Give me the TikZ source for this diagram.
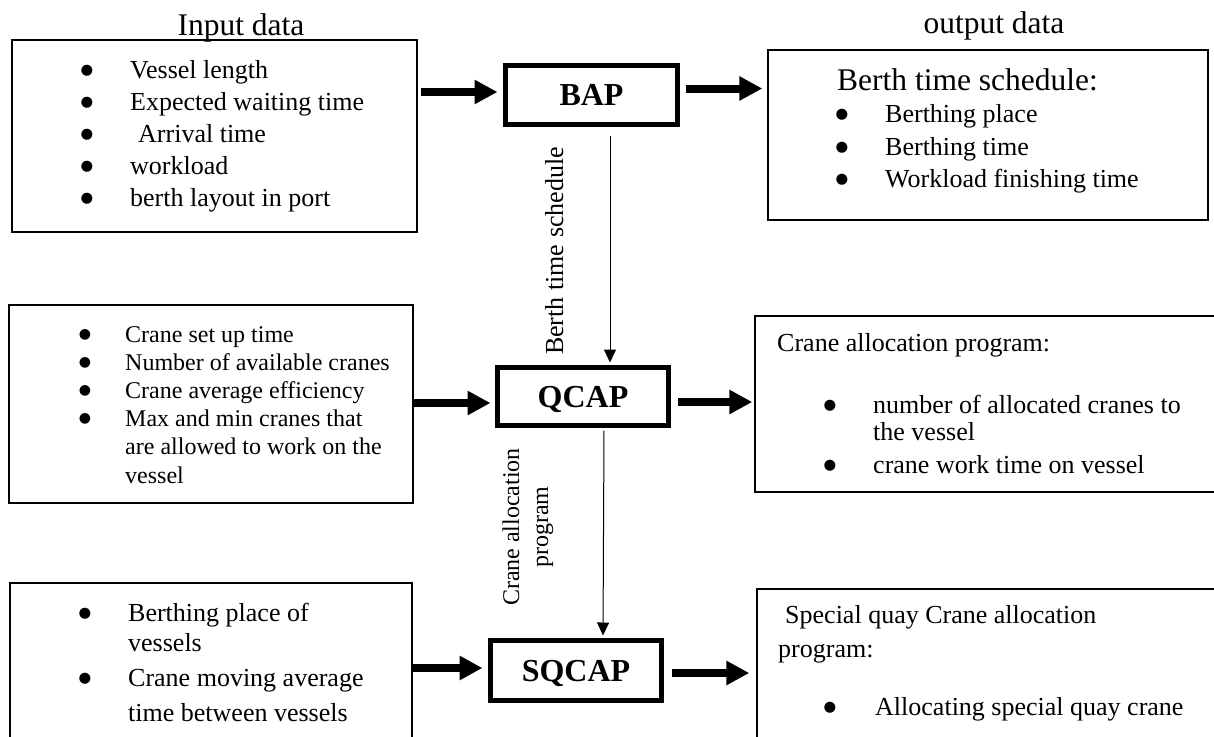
\documentclass[tikz,border=0pt]{standalone}
\usepackage{fontspec}
\setmainfont{Liberation Serif}
\newfontfamily\bulfont{DejaVu Sans}
\usetikzlibrary{arrows.meta}
\newcommand\mybul{●}
\tikzset{
 frame/.style={draw, line width=1.4pt, inner sep=0pt},
 proc/.style={draw, line width=5pt, inner sep=0pt, font=\fontsize{32}{36}\selectfont\bfseries, text height=21pt, text depth=0pt},
 ttl/.style={anchor=base, inner sep=0pt, font=\fontsize{31.5}{36}\selectfont},
 hd/.style={anchor=base west, inner sep=0pt, font=\fontsize{31.5}{36}\selectfont},
 txt/.style={anchor=base west, inner sep=0pt, font=\fontsize{26}{30}\selectfont},
 txts/.style={anchor=base west, inner sep=0pt, font=\fontsize{24}{28}\selectfont},
 bul/.style={anchor=base, inner sep=0pt, yshift=3.5pt, font=\bulfont\fontsize{14.5}{16}\selectfont},
 buls/.style={anchor=base, inner sep=0pt, yshift=4pt, font=\bulfont\fontsize{14}{16}\selectfont},
 thickarr/.style={line width=8pt, -{Triangle[length=23pt,width=23pt]}},
 thinarr/.style={line width=1pt, -{Triangle[length=13pt,width=12pt]}},
 vlab/.style={anchor=base, inner sep=0pt, rotate=90},
}
\begin{document}
\begin{tikzpicture}[x=1pt,y=-1pt]
\useasboundingbox (0,0) rectangle (1214,736);
\clip (0,0) rectangle (1214,736);
% titles
\node[ttl] (tin) at (241,35) {Input data};
\node[ttl] (tout) at (994,33) {output data};
% frames
\node[frame, minimum width=405pt, minimum height=192pt] (in1) at (214.5,136) {};
\node[frame, minimum width=404pt, minimum height=198pt] (in2) at (211,404) {};
\node[frame, minimum width=402pt, minimum height=177pt] (in3) at (211,671.5) {};
\node[frame, minimum width=440pt, minimum height=170pt] (out1) at (988,135) {};
\node[frame, minimum width=475pt, minimum height=176pt] (out2) at (992.5,404) {};
\node[frame, minimum width=473pt, minimum height=171pt] (out3) at (993.5,674.5) {};
% process boxes
\node[proc, minimum width=172pt, minimum height=59pt] (bap) at (591.5,95) {BAP};
\node[proc, minimum width=171pt, minimum height=58pt] (qcap) at (583,396.5) {QCAP};
\node[proc, minimum width=171pt, minimum height=60pt] (sqcap) at (576,670.5) {SQCAP};
% input 1 text
\node[bul] (b11) at (87,78) {\mybul};
\node[bul] (b12) at (87,110) {\mybul};
\node[bul] (b13) at (87,142) {\mybul};
\node[bul] (b14) at (87,174) {\mybul};
\node[bul] (b15) at (87,206) {\mybul};
\node[txt] (t11) at (130,78) {Vessel length};
\node[txt] (t12) at (130,110) {Expected waiting time};
\node[txt] (t13) at (138,142) {Arrival time};
\node[txt] (t14) at (130,174) {workload};
\node[txt] (t15) at (130,206) {berth layout in port};
% input 2 text
\node[buls] (b21) at (85,342) {\mybul};
\node[buls] (b22) at (85,370.2) {\mybul};
\node[buls] (b23) at (85,398.4) {\mybul};
\node[buls] (b24) at (85,426.6) {\mybul};
\node[txts] (t21) at (125,342) {Crane set up time};
\node[txts] (t22) at (125,370.2) {Number of available cranes};
\node[txts] (t23) at (125,398.4) {Crane average efficiency};
\node[txts] (t24) at (125,426.6) {Max and min cranes that};
\node[txts] (t25) at (125,454.8) {are allowed to work on the};
\node[txts] (t26) at (125,483) {vessel};
% input 3 text
\node[bul] (b31) at (85,621) {\mybul};
\node[bul] (b32) at (85,686) {\mybul};
\node[txt] (t31) at (128,621) {Berthing place of};
\node[txt] (t32) at (128,651) {vessels};
\node[txt] (t33) at (128,686) {Crane moving average};
\node[txt] (t34) at (128,721) {time between vessels};
% output 1 text
\node[hd] (h1) at (837,90) {Berth time schedule:};
\node[bul] (c11) at (842,122) {\mybul};
\node[bul] (c12) at (842,155) {\mybul};
\node[bul] (c13) at (842,187) {\mybul};
\node[txt] (u11) at (885,122) {Berthing place};
\node[txt] (u12) at (885,155) {Berthing time};
\node[txt] (u13) at (885,187) {Workload finishing time};
% output 2 text
\node[txt] (h2) at (777,351) {Crane allocation program:};
\node[bul] (c21) at (830,413) {\mybul};
\node[bul] (c22) at (830,473) {\mybul};
\node[txt] (u21) at (873,413) {number of allocated cranes to};
\node[txt] (u22) at (873,440) {the vessel};
\node[txt] (u23) at (873,473) {crane work time on vessel};
% output 3 text
\node[txt] (h3a) at (785,623) {Special quay Crane allocation};
\node[txt] (h3b) at (778,657) {program:};
\node[bul] (c31) at (830,715) {\mybul};
\node[txt] (u31) at (875,715) {Allocating special quay crane};
% vertical labels
\node[vlab, font=\fontsize{26}{30}\selectfont] (l1) at (563,251) {Berth time schedule};
\node[vlab, font=\fontsize{24}{28}\selectfont] (l2a) at (519,527) {Crane allocation};
\node[vlab, font=\fontsize{24}{28}\selectfont] (l2b) at (548,527) {program};
% thick arrows
\draw[thickarr, shorten <=3pt, shorten >=5.5pt] ([yshift=3pt]bap.west -| in1.east) -- ([yshift=3pt]bap.west);
\draw[thickarr, shorten <=5.5pt, shorten >=5pt] ([yshift=6.5pt]bap.east) -- ([yshift=6.5pt]bap.east -| out1.west);
\draw[thickarr, shorten >=4.5pt] ([yshift=-6.5pt]qcap.west -| in2.east) -- ([yshift=-6.5pt]qcap.west);
\draw[thickarr, shorten <=6.5pt, shorten >=2pt] ([yshift=-5.5pt]qcap.east) -- ([yshift=-5.5pt]qcap.east -| out2.west);
\draw[thickarr, shorten >=5.5pt] ([yshift=2.5pt]sqcap.west -| in3.east) -- ([yshift=2.5pt]sqcap.west);
\draw[thickarr, shorten <=7.5pt, shorten >=7pt] ([yshift=-2.5pt]sqcap.east) -- ([yshift=-2.5pt]sqcap.east -| out3.west);
% thin arrows
\draw[thinarr, shorten >=2.5pt] ([xshift=18.5pt,yshift=-8.5pt]bap.south) -- ([xshift=27pt]qcap.north);
\draw[thinarr, shorten <=2.5pt, shorten >=2.5pt] ([xshift=21pt]qcap.south) -- ([xshift=27pt]sqcap.north);
\end{tikzpicture}
\end{document}
